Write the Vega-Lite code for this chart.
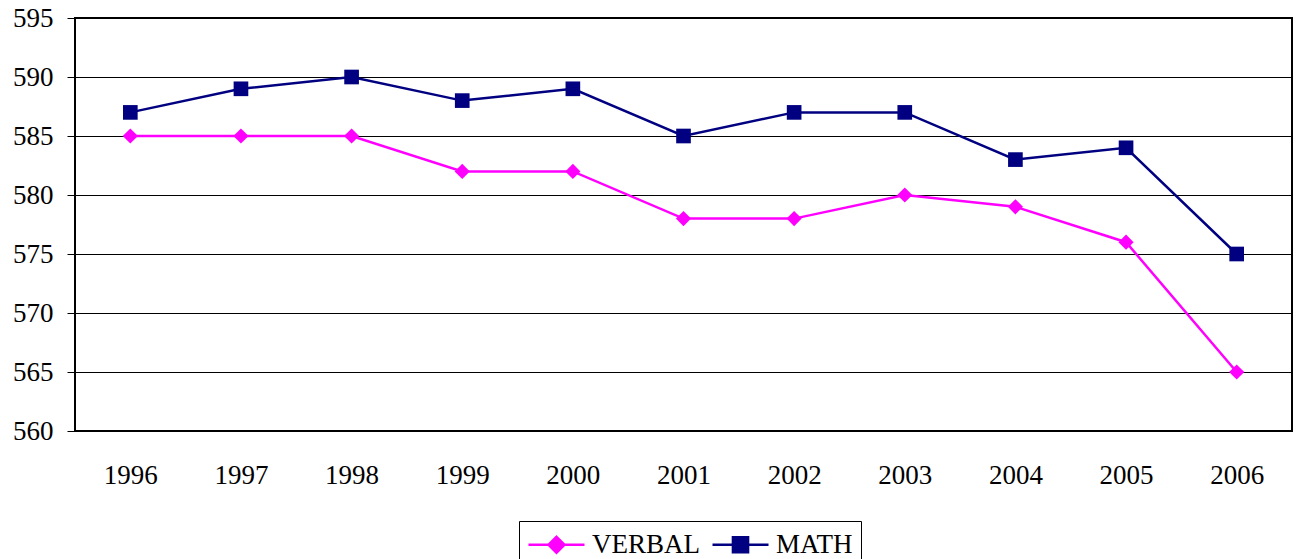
{
  "$schema": "https://vega.github.io/schema/vega-lite/v6.json",
  "autosize": {"type": "none"},
  "padding": {"left": 75, "top": 18, "right": 5, "bottom": 128},
  "width": 1217,
  "height": 413,
  "background": "white",
  "config": {
    "view": {"stroke": "black", "strokeWidth": 2},
    "font": "Liberation Serif"
  },
  "data": {
    "values": [
      {"year": "1996", "series": "VERBAL", "score": 585},
      {"year": "1997", "series": "VERBAL", "score": 585},
      {"year": "1998", "series": "VERBAL", "score": 585},
      {"year": "1999", "series": "VERBAL", "score": 582},
      {"year": "2000", "series": "VERBAL", "score": 582},
      {"year": "2001", "series": "VERBAL", "score": 578},
      {"year": "2002", "series": "VERBAL", "score": 578},
      {"year": "2003", "series": "VERBAL", "score": 580},
      {"year": "2004", "series": "VERBAL", "score": 579},
      {"year": "2005", "series": "VERBAL", "score": 576},
      {"year": "2006", "series": "VERBAL", "score": 565},
      {"year": "1996", "series": "MATH", "score": 587},
      {"year": "1997", "series": "MATH", "score": 589},
      {"year": "1998", "series": "MATH", "score": 590},
      {"year": "1999", "series": "MATH", "score": 588},
      {"year": "2000", "series": "MATH", "score": 589},
      {"year": "2001", "series": "MATH", "score": 585},
      {"year": "2002", "series": "MATH", "score": 587},
      {"year": "2003", "series": "MATH", "score": 587},
      {"year": "2004", "series": "MATH", "score": 583},
      {"year": "2005", "series": "MATH", "score": 584},
      {"year": "2006", "series": "MATH", "score": 575}
    ]
  },
  "encoding": {
    "x": {
      "field": "year", "type": "ordinal",
      "scale": {"type": "point", "padding": 0.5},
      "axis": {
        "title": null, "labelAngle": 0, "ticks": false, "domain": false, "grid": false,
        "labelFont": "Liberation Serif", "labelFontSize": 27, "labelColor": "black",
        "labelPadding": 31
      }
    },
    "y": {
      "field": "score", "type": "quantitative",
      "scale": {"domain": [560, 595], "nice": false, "zero": false},
      "axis": {
        "title": null, "values": [560, 565, 570, 575, 580, 585, 590, 595],
        "domain": false, "ticks": true, "tickSize": 8, "tickColor": "black", "tickWidth": 1,
        "grid": true, "gridColor": "black", "gridWidth": 1, "gridOpacity": 1,
        "labelFont": "Liberation Serif", "labelFontSize": 27, "labelColor": "black",
        "labelPadding": 14
      }
    },
    "color": {
      "field": "series", "type": "nominal",
      "scale": {"domain": ["VERBAL", "MATH"], "range": ["#FF00FF", "#000080"]},
      "legend": {
        "title": null, "orient": "none", "direction": "horizontal",
        "legendX": 444, "legendY": 503,
        "labelFont": "Liberation Serif", "labelFontSize": 27, "labelColor": "black",
        "strokeColor": "black", "fillColor": "white", "padding": 8,
        "symbolSize": 784, "symbolStrokeWidth": 2, "columnPadding": 7, "labelOffset": 34,
        "encode": {
          "symbols": {
            "update": {
              "shape": {"signal": "datum.label === 'VERBAL' ? 'M-1,0H3M1,-0.57L1.57,0L1,0.57L0.43,0Z' : 'M-1,0H3M0.46,-0.54H1.54V0.54H0.46Z'"},
              "size": {"value": 784},
              "fill": {"signal": "datum.label === 'VERBAL' ? '#FF00FF' : '#000080'"},
              "stroke": {"signal": "datum.label === 'VERBAL' ? '#FF00FF' : '#000080'"},
              "strokeWidth": {"value": 2.5},
              "opacity": {"value": 1},
              "fillOpacity": {"value": 1}
            }
          }
        }
      }
    }
  },
  "layer": [
    {
      "mark": {"type": "line", "strokeWidth": 2.5}
    },
    {
      "transform": [{"filter": "datum.series === 'VERBAL'"}],
      "mark": {"type": "point", "filled": true, "opacity": 1, "shape": "diamond", "size": 230}
    },
    {
      "transform": [{"filter": "datum.series === 'MATH'"}],
      "mark": {"type": "point", "filled": true, "opacity": 1, "shape": "square", "size": 215}
    }
  ]
}
